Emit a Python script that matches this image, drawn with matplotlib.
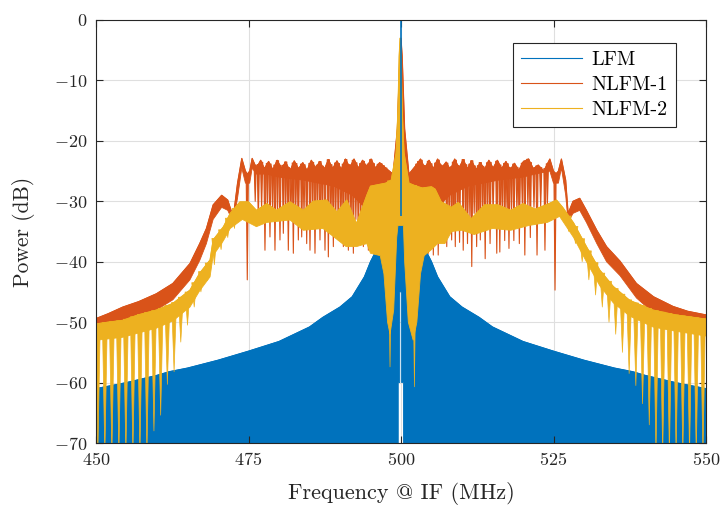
# spectrum of LFM vs two NLFM waveforms, redrawn from envelopes
import numpy as np
import matplotlib
matplotlib.use("Agg")
import matplotlib.pyplot as plt
from matplotlib.collections import PolyCollection

plt.rcParams['font.family'] = ['cmr10', 'DejaVu Serif']
plt.rcParams['mathtext.fontset'] = 'cm'
plt.rcParams['axes.formatter.use_mathtext'] = True
plt.rcParams['axes.unicode_minus'] = True

# ---- LFM (blue): dense spectrum, shown as a filled area under its upper envelope
lfm_f = [450, 455, 460, 462, 465, 470, 475, 480, 485, 487.2, 490, 492, 494, 495, 496, 497, 498, 499,
         499.8, 500.2, 501, 502, 503, 504, 505, 506, 508, 510, 512.8, 515, 520, 525, 530, 535, 538,
         540, 545, 550]
lfm_top = [-61.0, -60.0, -58.8, -58.2, -57.6, -56.3, -54.8, -53.2, -50.8, -49.2, -47.5, -45.8, -42.5,
           -40.0, -38.0, -35.5, -34.0, -33.0, -32.5, -32.5, -33.0, -34.0, -35.5, -38.0, -40.0, -42.5,
           -45.8, -47.5, -49.2, -50.8, -53.2, -54.8, -56.3, -57.6, -58.2, -58.8, -60.0, -61.0]
lfm_bot_f = [450, 499.55, 499.55, 499.8, 499.8, 500.1, 500.1, 500.4, 500.4, 550]
lfm_bot = [-72, -72, -60, -60, -45, -45, -60, -60, -72, -72]
lfm_peak_f = 500.0
lfm_peak_db = 0.0

# ---- NLFM-1 (red)
n1_f_top = [450, 452, 454.4, 457, 459.9, 462.6, 465.4, 467, 468.1, 469.2, 470.6, 471.6, 472.5, 473.2,
            473.9, 474.5, 474.8, 475.2, 475.6, 476.3, 477.0, 477.6, 478.3, 479.0, 479.7, 480.4,
            481.1, 481.8, 482.5, 483.2, 483.9, 484.6, 485.3, 486.0, 486.7, 487.4, 488.1, 488.8,
            489.5, 490.2, 490.9, 491.6, 492.3, 493.0, 493.7, 494.4, 495.1, 495.8, 496.5, 497.5,
            498.7, 499.4, 499.8, 500, 500.2, 500.6, 501.3, 502.5, 503.2, 503.9, 504.6, 505.3, 506.0,
            506.7, 507.4, 508.1, 508.8, 509.5, 510.2, 510.9, 511.6, 512.3, 513.0, 513.7, 514.4,
            515.1, 515.8, 516.5, 517.2, 517.9, 518.6, 519.3, 520.0, 520.9, 521.7, 522.5, 523.4,
            524.4, 525, 525.4, 525.8, 526.3, 527, 527.4, 528.2, 529.3, 530.4, 532.1, 533.7, 535.9,
            538.6, 541.4, 544.6, 547, 550]
n1_top = [-49.4, -48.6, -47.5, -46.6, -45.3, -43.6, -40.3, -37.0, -34.5, -30.6, -29.0, -29.8, -32.6,
          -27.0, -22.9, -25.0, -25.5, -25.0, -22.9, -24.5, -23.2, -24.6, -23.4, -24.8, -23.2, -24.5,
          -23.5, -25.0, -23.3, -24.6, -23.6, -24.9, -23.2, -24.5, -23.4, -24.8, -23.1, -24.6, -23.3,
          -24.7, -23.0, -24.4, -23.0, -24.5, -23.2, -24.3, -23.0, -24.5, -23.6, -24.5, -25.5, -18.0,
          -6.0, -3.0, -6.0, -18.0, -25.5, -24.0, -23.0, -24.5, -23.2, -24.6, -23.0, -24.4, -23.5,
          -24.8, -23.0, -24.5, -23.1, -24.6, -23.3, -24.8, -23.6, -24.7, -23.2, -24.5, -23.2, -24.6,
          -23.4, -24.8, -23.7, -24.9, -23.5, -23.0, -24.6, -24.0, -25.0, -23.0, -25.0, -25.5, -25.0,
          -23.0, -26.5, -32.0, -30.0, -29.5, -31.5, -34.8, -37.5, -39.9, -43.6, -45.8, -47.4, -48.2,
          -48.8]
n1_f_bot = [450, 454.4, 459.9, 462.6, 465.4, 467, 468.1, 469.2, 470.6, 471.6, 472.5, 473.2, 473.9,
            474.5, 475.2, 475.6, 476.3, 478, 480, 484, 489, 492, 494, 496, 497.5, 498.7, 499.6, 500.4,
            501.3, 502.5, 504, 506, 508, 511, 516, 520, 522, 524.4, 525, 525.8, 526.3, 527, 527.4,
            528.2, 529.3, 530.4, 532.1, 533.7, 535.9, 538.6, 541.4, 544.6, 547, 550]
n1_bot = [-52.5, -50.3, -48.0, -46.3, -43.0, -39.8, -37.0, -33.0, -31.0, -31.5, -33.5, -29.5, -24.5,
          -27.0, -27.0, -24.5, -25.5, -25.5, -26.0, -26.5, -27.5, -29.0, -31.0, -33.5, -35.0, -30.0,
          -28.0, -28.0, -30.0, -35.0, -33.5, -31.0, -29.0, -27.5, -26.5, -26.0, -25.5, -25.0, -27.0,
          -27.0, -24.5, -29.0, -33.5, -32.0, -31.5, -33.5, -37.0, -40.0, -42.3, -46.0, -48.5, -50.0,
          -51.0, -51.8]
# downward spikes of NLFM-1 (oscillation minima) across the flat part of its spectrum
n1_spike_f = [474.8, 476.1, 476.61, 477.15, 477.7, 478.1, 478.52, 478.95, 479.34, 479.75, 480.16,
              480.71, 481.1, 481.53, 481.95, 482.35, 482.75, 483.17, 483.72, 484.1, 484.54, 485.08,
              485.5, 485.9, 486.3, 486.72, 487.1, 487.54, 488.09, 488.5, 488.91, 489.3, 489.73,
              490.15, 490.55, 490.95, 491.37, 491.8, 492.19, 492.6, 493.01, 493.4, 493.83, 494.25,
              494.65, 495.05, 495.46, 495.9, 496.28, 496.7, 497.1, 497.5,
              502.6, 502.9, 503.3, 503.7, 504.1, 504.5, 504.9, 505.3, 505.7, 506.1, 506.5, 506.9,
              507.5, 507.9, 508.3, 508.6, 508.9, 509.3, 509.6, 510.2, 510.6, 510.9, 511.3, 511.6,
              512.0, 512.4, 512.7, 513.0, 513.4, 513.8, 514.2, 514.6, 515.1, 515.7, 516.2, 516.6,
              517.0, 517.4, 517.7, 518.1, 518.5, 519.0, 519.4, 519.9, 520.3, 520.8, 521.2, 521.8,
              522.3, 522.9, 523.6, 524.0, 525.25]
n1_spike_db = [-43.0, -30.0, -33.1, -31.5, -38.1, -31.0, -35.9, -31.5, -38.1, -32.0, -36.4, -35.3,
               -31.5, -38.1, -32.0, -38.6, -31.5, -36.4, -35.9, -32.0, -37.0, -38.1, -32.5, -38.6,
               -32.0, -36.4, -32.5, -38.1, -39.2, -33.0, -37.5, -32.5, -36.4, -33.0, -37.5, -33.0,
               -38.1, -33.5, -38.6, -33.0, -37.0, -33.5, -37.5, -34.0, -38.1, -34.0, -38.6, -35.0,
               -37.5, -35.5, -39.2, -41.4,
               -40.0, -39.2, -35.5, -37.5, -35.0, -38.6, -34.5, -38.9, -34.0, -38.9, -33.5, -36.4,
               -37.5, -33.0, -36.4, -33.0, -37.5, -32.5, -36.8, -38.1, -32.5, -37.0, -32.5, -40.8,
               -32.0, -37.5, -32.0, -36.4, -32.5, -39.5, -32.0, -37.0, -32.0, -38.6, -38.4, -32.0,
               -36.5, -32.0, -37.8, -31.5, -36.5, -31.5, -37.0, -31.5, -38.9, -31.0, -36.0, -31.0,
               -38.9, -31.0, -38.1, -30.5, -44.7]

# ---- NLFM-2 (yellow)
n2_f_top = [450, 452, 454.4, 456.9, 459.9, 462.6, 465.4, 467, 468.7, 469.2, 470.9, 472, 473.6, 475,
            476.3, 478, 479.6, 481.8, 484, 485.6, 487.8, 489.5, 491.1, 492.7, 494.4, 495, 497.5,
            498.4, 499.2, 499.5, 499.7, 499.85, 500.0, 500.2, 500.5, 501.3, 502.5, 503.5, 505,
            505.6, 506.6, 508.3, 509.4, 511.5, 513.7, 515.9, 518, 520, 522, 524, 525.5, 526.5, 528.3,
            530.4, 532.6, 534.8, 537.5, 541.3, 545, 550]
n2_top = [-50.3, -50.0, -49.7, -48.8, -48.0, -46.9, -44.7, -41.9, -39.7, -36.4, -34.2, -32.0, -30.1,
          -30.1, -31.5, -30.4, -31.5, -30.1, -31.5, -30.0, -29.8, -31.8, -29.8, -33.7, -29.0, -27.5,
          -27.0, -26.5, -22.0, -15.0, -6.0, -3.0, -6.0, -15.0, -22.0, -27.0, -27.5, -27.8, -27.6,
          -28.0, -30.1, -31.0, -30.2, -32.9, -30.6, -30.6, -31.5, -30.4, -31.3, -30.5, -29.8, -31.0,
          -33.6, -37.5, -41.4, -44.1, -46.4, -48.0, -48.8, -49.5]
n2_f_bot = [450, 454.4, 459.9, 462.6, 465.4, 467, 468.7, 469.2, 470.9, 472, 474, 476.3, 478, 481.8,
            484, 487.2, 489, 491, 492.7, 494.4, 495, 496.6, 497.2, 497.8, 498.2, 498.8, 499.3, 499.5,
            500.4, 500.6, 501.2, 502.0, 502.6, 503.2, 503.8, 505, 506, 507.2, 508.3, 510, 512, 515,
            518, 521, 524, 526, 528.3, 530.4, 532.6, 534.8, 537.5, 541.3, 545, 550]
n2_bot = [-53.0, -52.5, -51.0, -49.8, -47.5, -44.8, -42.5, -39.0, -36.5, -34.5, -33.0, -34.2, -33.5,
          -33.1, -34.8, -34.5, -35.9, -37.5, -37.5, -37.0, -38.6, -39.0, -42.0, -50.0, -52.0, -48.0,
          -36.0, -34.0, -34.0, -40.0, -50.0, -53.0, -50.0, -42.0, -39.0, -38.0, -37.0, -37.0, -35.0,
          -34.8, -35.5, -34.5, -34.8, -34.0, -33.5, -32.5, -36.0, -40.0, -44.0, -46.8, -49.0, -50.8,
          -51.5, -52.3]
# deep notches ("teeth") of NLFM-2
n2_tooth_f = [450.3, 451.45, 452.6, 453.75, 454.9, 456.05, 457.2, 458.35, 459.5, 460.6, 461.7, 462.8,
              463.9, 465.0, 466.1, 467.2, 468.3, 469.4, 470.5, 471.6, 472.7, 498.2, 502.2, 527.5,
              528.6, 529.7, 530.8, 531.9, 533.0, 534.1, 535.2, 536.3, 537.4, 538.5, 539.6, 540.7,
              541.8, 542.9, 544.0, 545.1, 546.2, 547.3, 548.4, 549.5]
n2_tooth_db = [-72, -72, -72, -72, -72, -72, -72, -72, -68.0, -65.4, -60.3, -58.2, -53.3, -50.5,
               -47.5, -45.0, -43.1, -40.5, -38.0, -36.0, -34.5, -57.4, -60.7, -35.0, -37.0, -40.0,
               -43.0, -45.5, -47.5, -50.0, -52.0, -55.0, -58.5, -60.5, -63.5, -67.0, -72, -72, -72,
               -72, -72, -72, -72, -72]

labels = ['LFM', 'NLFM-1', 'NLFM-2']
colors = ['#0072BD', '#D95319', '#EDB120']
x_ticks = [450, 475, 500, 525, 550]
y_ticks = [0, -10, -20, -30, -40, -50, -60, -70]


def band(ax, f_top, db_top, f_bot, db_bot, color, z):
    xs = list(f_top) + list(f_bot)[::-1]
    ys = list(db_top) + list(db_bot)[::-1]
    ax.fill(xs, ys, facecolor=color, edgecolor=color, lw=0.6, zorder=z)


def notches(ax, f_top, db_top, f_n, db_n, half, color, z, lw=0.5):
    tops = np.interp(f_n, f_top, db_top)
    tri = [[(f - half, t), (f, lo), (f + half, t)] for f, t, lo in zip(f_n, tops, db_n)]
    ax.add_collection(PolyCollection(tri, facecolor=color, edgecolor=color, lw=lw, zorder=z))


fig = plt.figure(figsize=(7.25, 5.11), dpi=100)
ax = fig.add_axes([96 / 725, 68 / 511, 610 / 725, 423 / 511])

# grid below the data, axis ticks stay on top
for xt in x_ticks:
    ax.axvline(xt, color='#dfdfdf', lw=0.8, zorder=0)
for yt in y_ticks:
    ax.axhline(yt, color='#dfdfdf', lw=0.8, zorder=0)

# LFM
band(ax, lfm_f, lfm_top, lfm_bot_f, lfm_bot, colors[0], 1)
ax.plot(lfm_f, lfm_top, color=colors[0], lw=0.8, zorder=1, label=labels[0])

# NLFM-1
band(ax, n1_f_top, n1_top, n1_f_bot, n1_bot, colors[1], 2)
ax.plot(n1_f_top, n1_top, color=colors[1], lw=0.8, zorder=2, label=labels[1])
notches(ax, n1_f_top, n1_top, n1_spike_f, n1_spike_db, 0.18, colors[1], 2, lw=0.8)

# NLFM-2
band(ax, n2_f_top, n2_top, n2_f_bot, n2_bot, colors[2], 3)
ax.plot(n2_f_top, n2_top, color=colors[2], lw=0.8, zorder=3, label=labels[2])
notches(ax, n2_f_top, n2_top, n2_tooth_f, n2_tooth_db, 0.4, colors[2], 3)

# LFM main lobe
ax.vlines(lfm_peak_f, np.interp(lfm_peak_f, lfm_f, lfm_top), lfm_peak_db, color=colors[0], lw=1.2, zorder=4)

ax.set_xlim(450, 550)
ax.set_ylim(-70, 0)
ax.set_xticks(x_ticks)
ax.set_yticks(y_ticks)
ax.tick_params(direction='in', length=5, width=0.8, top=True, right=True, labelsize=13,
               colors='#262626', pad=6)
for s in ax.spines.values():
    s.set_color('#262626')
    s.set_linewidth(0.8)
    s.set_zorder(5)

ax.set_xlabel('Frequency @ IF (MHz)', fontsize=16, color='#262626', labelpad=10)
ax.set_ylabel('Power (dB)', fontsize=15.5, color='#262626', labelpad=14)

leg = ax.legend(loc='upper right', bbox_to_anchor=(0.951, 0.946), fontsize=14.5, handlelength=3.0,
                labelspacing=0.35, borderaxespad=0, fancybox=False, framealpha=1, handletextpad=0.5,
                borderpad=0.4)
leg.get_frame().set_edgecolor('#262626')
leg.get_frame().set_linewidth(0.8)
leg.set_zorder(6)

fig.savefig('out.png', dpi=100)
